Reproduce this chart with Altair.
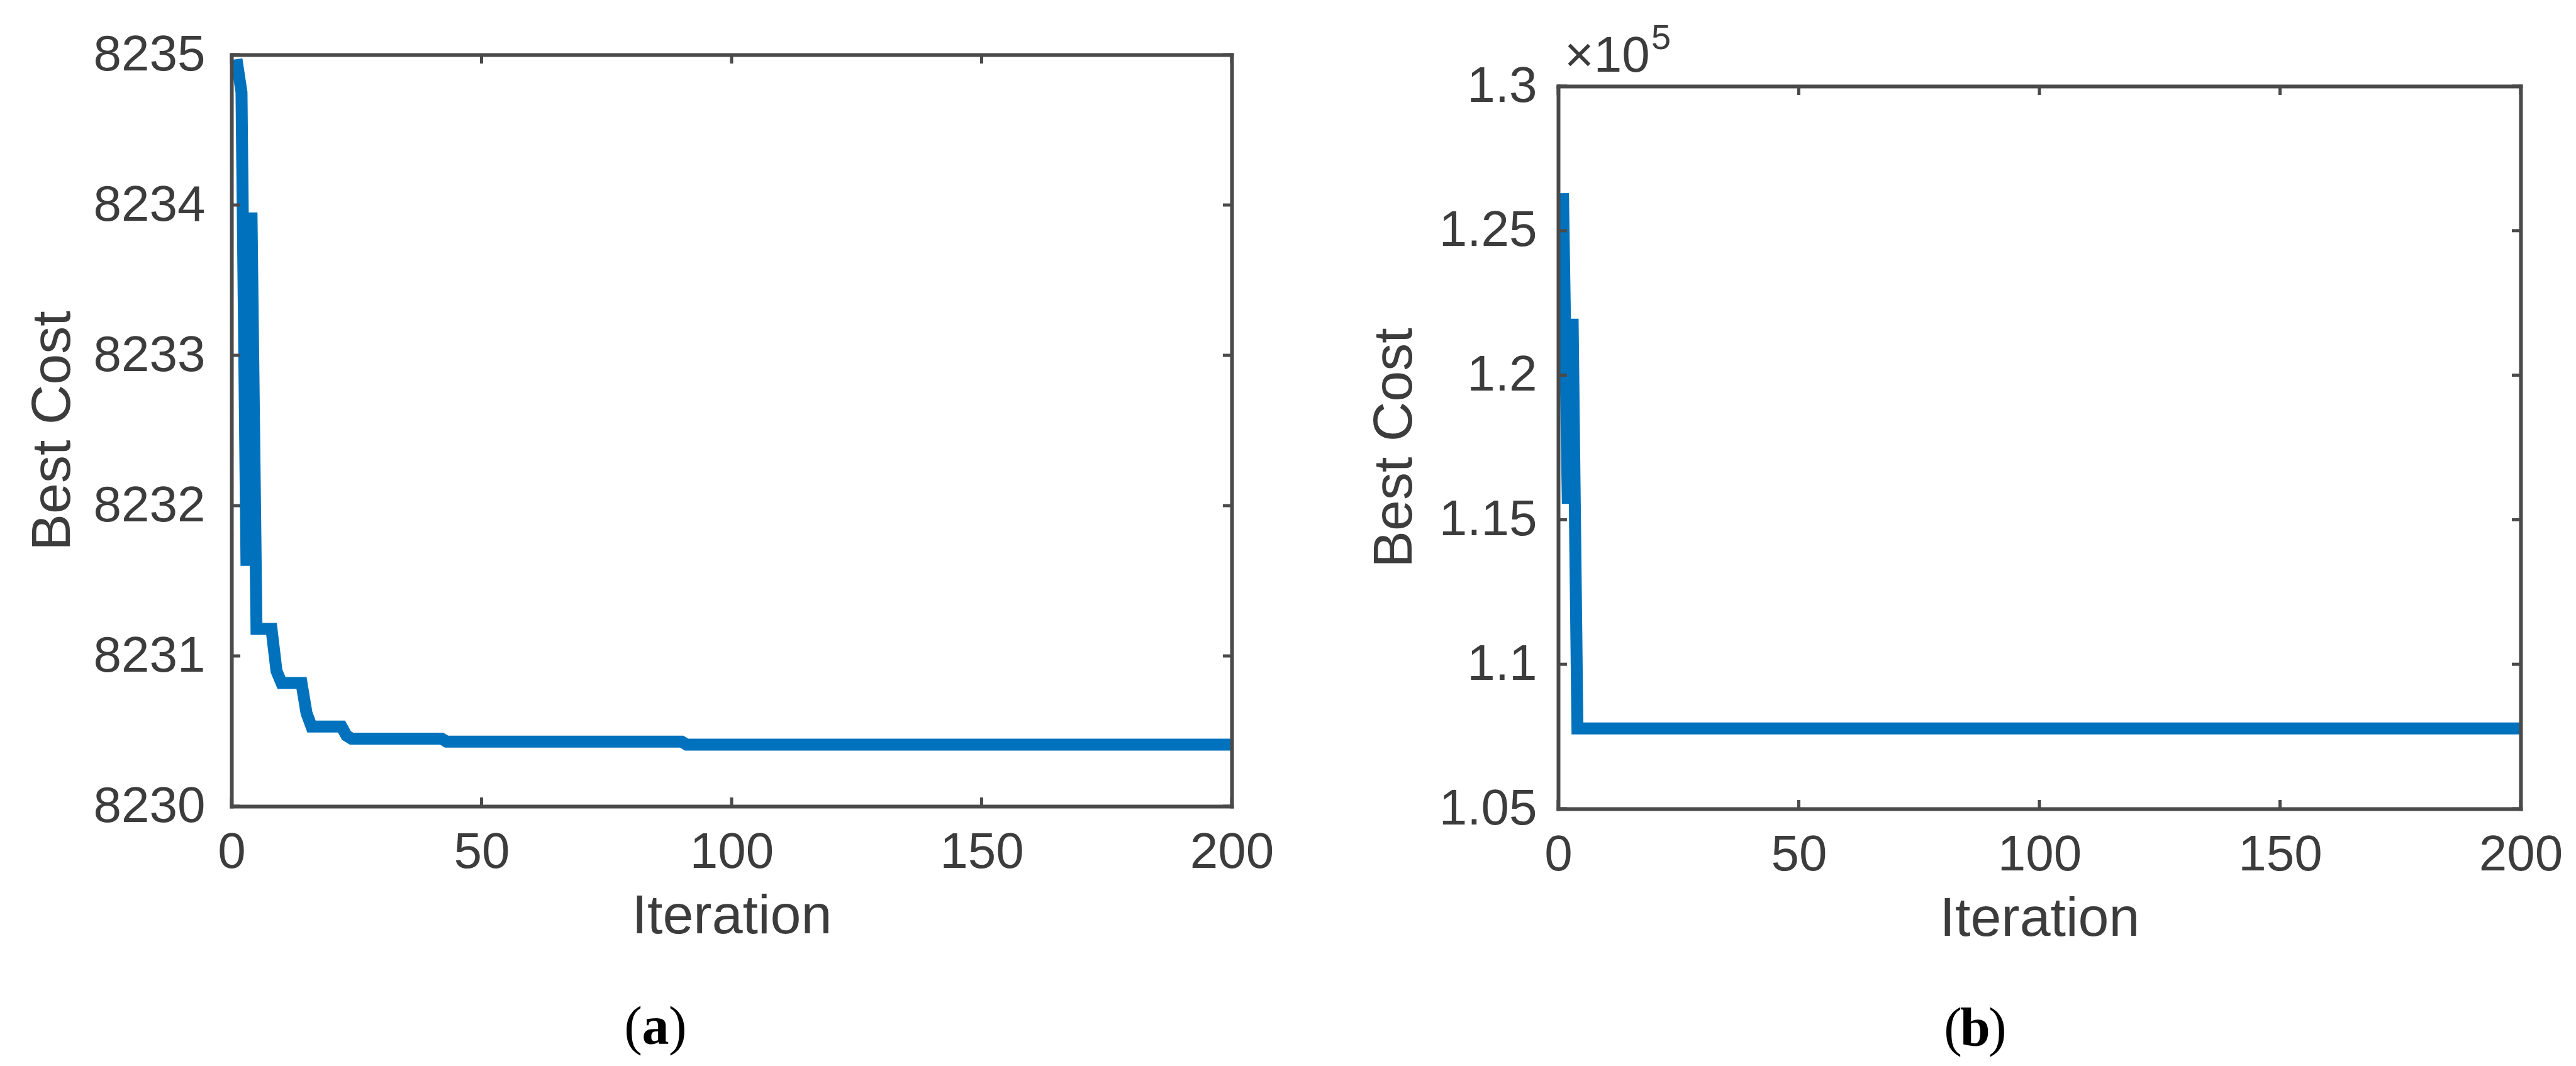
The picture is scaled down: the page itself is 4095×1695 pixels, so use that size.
import altair as alt
import pandas as pd

# ---------------- data ----------------
iterations = list(range(1, 201))

cost_a = ([8234.97, 8234.75, 8231.60, 8233.95]
          + [8231.18] * 4
          + [8230.90]
          + [8230.82] * 5
          + [8230.62]
          + [8230.53] * 7
          + [8230.47]
          + [8230.45] * 19
          + [8230.43] * 48
          + [8230.41] * 110)

cost_b = [126300, 115550, 121950] + [107780] * 197

x_ticks = [0, 50, 100, 150, 200]
y_ticks_a = [8230, 8231, 8232, 8233, 8234, 8235]
y_ticks_b = [105000, 110000, 115000, 120000, 125000, 130000]
captions = ["a", "b"]

# ---------------- style ----------------
FONT = "Liberation Sans"
SERIF = "Liberation Serif"
AXIS_COLOR = "#4a4a4a"
TEXT_COLOR = "#3c3c3c"
LINE_COLOR = "#0072BD"
TICK_FS = 80
TITLE_FS = 88
TL = 14      # inward tick length
AW = 6       # axis line width


def axis_main(orient, title, label_pad, title_pad, fmt=None, label_expr=None, values=None):
    kw = dict(orient=orient, values=values, ticks=False, domain=True,
              domainColor=AXIS_COLOR, domainWidth=AW, domainCap="square", grid=False,
              labelFont=FONT, labelFontSize=TICK_FS, labelColor=TEXT_COLOR,
              labelPadding=label_pad, labelFlush=False, labelOverlap=False,
              labelBound=False, labelLimit=600, title=title, titleFont=FONT,
              titleFontSize=TITLE_FS, titleFontWeight="normal", titleColor=TEXT_COLOR,
              titlePadding=title_pad, zindex=1)
    if fmt:
        kw["format"] = fmt
    if label_expr:
        kw["labelExpr"] = label_expr
    return alt.Axis(**kw)


def axis_mirror(orient, offset):
    return alt.Axis(orient=orient, ticks=False, labels=False, grid=False, domain=True,
                    domainColor=AXIS_COLOR, domainWidth=AW, domainCap="square",
                    title=None, offset=offset, zindex=1)


def panel(values, ydomain, yticks, w, h, top, caption, cap_x, cap_y, fmt=None,
          label_expr=None, extra=None, y_label_pad=42, y_title_pad=26):
    df = pd.DataFrame({"iter": iterations, "cost": values})
    base = alt.Chart(df)
    xs = alt.Scale(domain=[0, 200], nice=False, zero=False)
    ys = alt.Scale(domain=ydomain, nice=False, zero=False, range=[h, top])
    line = base.mark_line(color=LINE_COLOR, strokeWidth=19, clip=True,
                          strokeJoin="miter", strokeCap="butt").encode(
        x=alt.X("iter:Q", scale=xs,
                axis=axis_main("bottom", "Iteration", 34, 18, values=x_ticks)),
        y=alt.Y("cost:Q", scale=ys,
                axis=axis_main("left", "Best Cost", y_label_pad, y_title_pad,
                               fmt=fmt, label_expr=label_expr, values=yticks)),
    )
    mirror = base.mark_line(opacity=0).encode(
        x=alt.X("iter:Q", scale=xs, axis=axis_mirror("top", -top)),
        y=alt.Y("cost:Q", scale=ys, axis=axis_mirror("right", 0)),
    )
    # inward tick marks (MATLAB style), placed through the scales
    ydf = alt.Chart(pd.DataFrame({"v": yticks}))
    xdf = alt.Chart(pd.DataFrame({"v": x_ticks}))
    tick_left = ydf.mark_rule(color=AXIS_COLOR, strokeWidth=5).encode(
        y=alt.Y("v:Q", scale=ys, axis=None), x=alt.value(0), x2=alt.value(TL))
    tick_right = ydf.mark_rule(color=AXIS_COLOR, strokeWidth=5).encode(
        y=alt.Y("v:Q", scale=ys, axis=None), x=alt.value(w - TL), x2=alt.value(w))
    tick_bottom = xdf.mark_rule(color=AXIS_COLOR, strokeWidth=5).encode(
        x=alt.X("v:Q", scale=xs, axis=None), y=alt.value(h), y2=alt.value(h - TL))
    tick_top = xdf.mark_rule(color=AXIS_COLOR, strokeWidth=5).encode(
        x=alt.X("v:Q", scale=xs, axis=None), y=alt.value(top), y2=alt.value(top + TL))

    cap = alt.Chart(pd.DataFrame({"c": [caption]}))
    cap_mid = cap.mark_text(font=SERIF, fontSize=86, fontWeight="bold", color="black",
                            baseline="middle", align="center").encode(
        x=alt.value(cap_x), y=alt.value(cap_y), text="c:N")
    cap_l = cap.mark_text(font=SERIF, fontSize=86, color="black", baseline="middle",
                          align="right", text="(").encode(
        x=alt.value(cap_x - 21), y=alt.value(cap_y))
    cap_r = cap.mark_text(font=SERIF, fontSize=86, color="black", baseline="middle",
                          align="left", text=")").encode(
        x=alt.value(cap_x + 21), y=alt.value(cap_y))
    layers = [line, mirror, tick_left, tick_right, tick_bottom, tick_top,
              cap_l, cap_mid, cap_r]
    if extra:
        layers += extra
    return alt.layer(*layers).properties(width=w, height=h)


one = alt.Chart(pd.DataFrame({"c": [0]}))
exp_base = one.mark_text(font=FONT, fontSize=TICK_FS, color=TEXT_COLOR, align="left",
                         baseline="alphabetic", text="\u00d710").encode(
    x=alt.value(10), y=alt.value(27))
exp_pow = one.mark_text(font=FONT, fontSize=56, color=TEXT_COLOR, align="left",
                        baseline="alphabetic", text="5").encode(
    x=alt.value(148), y=alt.value(-9))

left = panel(cost_a, [8230, 8235], y_ticks_a, 1590, 1195, 0, captions[0], 674, 1547,
             fmt="d", y_label_pad=42, y_title_pad=40)
right = panel(cost_b, [105000, 130000], y_ticks_b, 1530, 1199, 50, captions[1], 663, 1549,
              label_expr="format(datum.value / 100000, '.2~f')",
              extra=[exp_base, exp_pow], y_label_pad=34, y_title_pad=26)

chart = alt.hconcat(left, right, spacing=148).properties(
    padding={"left": 32, "top": 25, "right": 0, "bottom": 6},
    background="white",
).configure_view(strokeOpacity=0)

chart.save("out.html", embed_options={"renderer": "svg", "actions": False})
